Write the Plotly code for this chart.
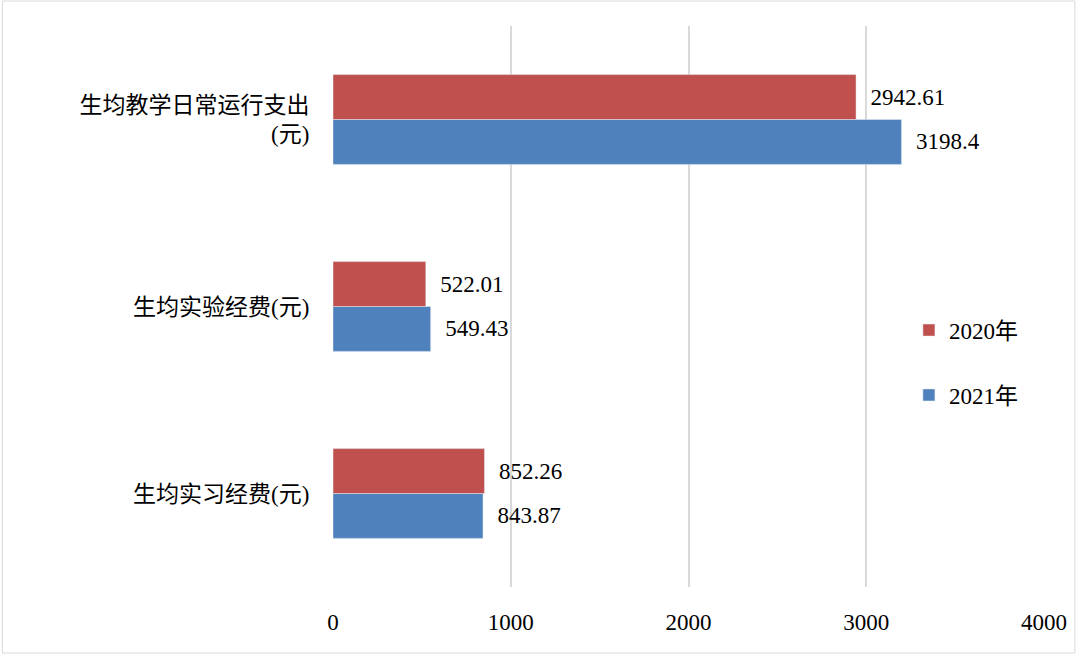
import plotly.graph_objects as go

categories = ["生均教学日常运行支出<br>(元)", "生均实验经费(元)", "生均实习经费(元)"]
values_2020 = [2942.61, 522.01, 852.26]
values_2021 = [3198.4, 549.43, 843.87]
tick_vals = [0, 1000, 2000, 3000, 4000]

font = dict(family="Liberation Serif, Noto Sans CJK SC", size=23, color="black")

fig = go.Figure()
fig.add_trace(go.Bar(y=categories, x=values_2021, name="2021年", orientation="h",
                     marker_color="#4F81BD", text=["  " + str(v) for v in values_2021],
                     textposition="outside", cliponaxis=False, legendgroup="b", legendrank=2))
fig.add_trace(go.Bar(y=categories, x=values_2020, name="2020年", orientation="h",
                     marker_color="#C0504D", text=["  " + str(v) for v in values_2020],
                     textposition="outside", cliponaxis=False, legendgroup="a", legendrank=1))

fig.update_layout(
    width=1079, height=654,
    barmode="group", bargap=0.52, bargroupgap=0,
    font=font,
    plot_bgcolor="white", paper_bgcolor="white",
    margin=dict(l=333, r=32, t=26, b=67),
    xaxis=dict(range=[0, 4000], tickvals=tick_vals, showgrid=True, gridcolor="#D9D9D9",
               gridwidth=1.5, zeroline=False, ticks="outside", ticklen=14, tickcolor="white"),
    yaxis=dict(categoryorder="array", categoryarray=categories[::-1],
               ticks="outside", ticklen=18, tickcolor="white"),
    legend=dict(x=0.81, y=0.40, xanchor="left", yanchor="middle",
                traceorder="grouped", tracegroupgap=32, itemwidth=30,
                font=font, bgcolor="rgba(0,0,0,0)"),
    uniformtext=dict(minsize=23, mode="show"),
    shapes=[dict(type="rect", xref="paper", yref="paper", x0=-332/714, x1=1+31/714,
                 y0=-66/561, y1=1+25/561, line=dict(color="#D9D9D9", width=1))],
)
fig.update_traces(textfont=font)

fig.write_html("out.html", config={"displayModeBar": False},
               post_script="document.body.style.margin='0';document.body.style.overflow='hidden';")
